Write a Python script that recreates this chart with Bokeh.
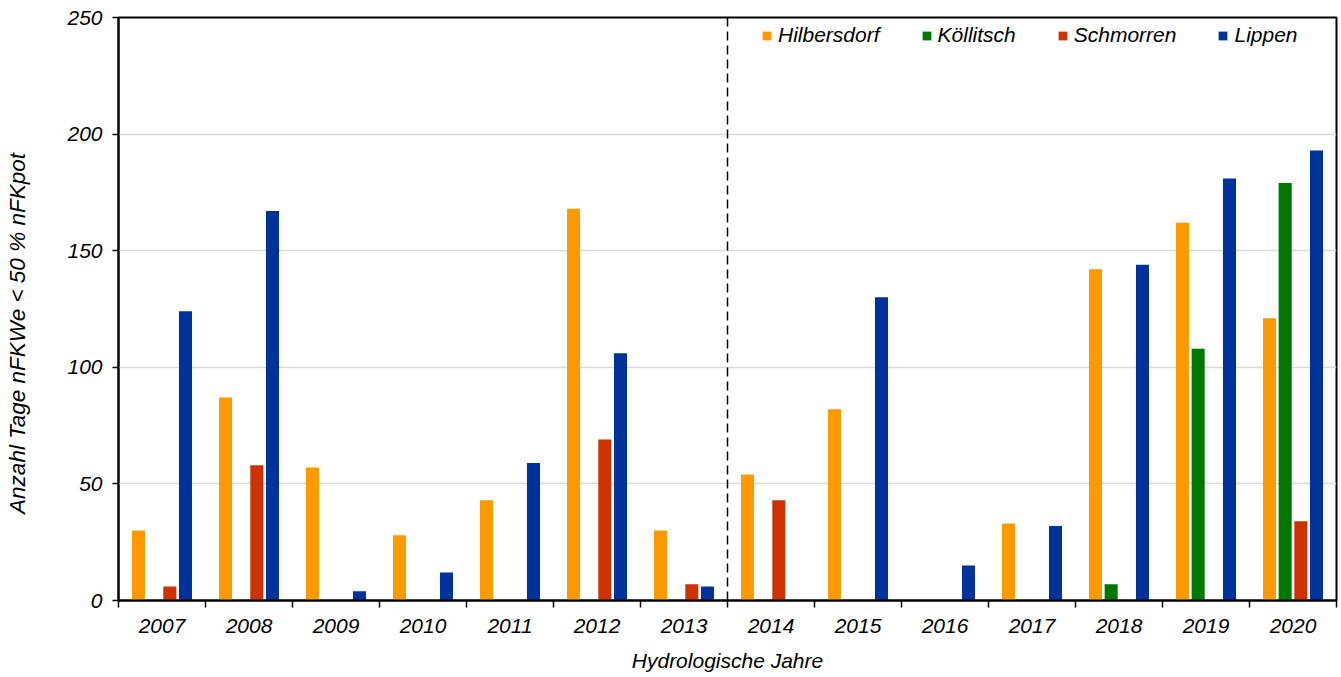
from bokeh.plotting import figure
from bokeh.models import ColumnDataSource, FixedTicker, Span, Legend, LinearAxis
from bokeh.embed import file_html
from bokeh.resources import INLINE

years = ["2007", "2008", "2009", "2010", "2011", "2012", "2013",
         "2014", "2015", "2016", "2017", "2018", "2019", "2020"]
hilbersdorf = [30, 87, 57, 28, 43, 168, 30, 54, 82, 0, 33, 142, 162, 121]
koellitsch = [0, 0, 0, 0, 0, 0, 0, 0, 0, 0, 0, 7, 108, 179]
schmorren = [6, 58, 0, 0, 0, 69, 7, 43, 0, 0, 0, 0, 0, 34]
lippen = [124, 167, 4, 12, 59, 106, 6, 0, 130, 15, 32, 144, 181, 193]
series_names = ["Hilbersdorf", "Köllitsch", "Schmorren", "Lippen"]
series_values = [hilbersdorf, koellitsch, schmorren, lippen]
colors = ["#FF9900", "#007700", "#CC3300", "#003399"]
offsets = [-0.27, -0.09, 0.09, 0.27]
y_ticks = [0, 50, 100, 150, 200, 250]
split_year = "2014"
x_title = "Hydrologische Jahre"
y_title = "Anzahl Tage nFKWe < 50 % nFKpot"

FONT = "Liberation Sans"
FS = "21px"

p = figure(frame_width=1218, frame_height=583,
           x_range=(0, len(years)), y_range=(0, 250),
           output_backend="svg", toolbar_location=None,
           min_border_left=118, min_border_right=5, min_border_top=17,
           min_border_bottom=62, background_fill_color="white",
           border_fill_color="white")

centers = [i + 0.5 for i in range(len(years))]
items = []
for name, vals, col, off in zip(series_names, series_values, colors, offsets):
    src = ColumnDataSource(dict(x=[c + off for c in centers], top=vals))
    r = p.vbar(x="x", top="top", width=0.15, source=src, fill_color=col,
               line_color=None)
    items.append((name, [r]))

legend = Legend(items=items, orientation="horizontal", location=(643, 553),
                border_line_color=None, background_fill_alpha=0,
                padding=4, margin=0, spacing=41, label_standoff=6,
                glyph_width=11, glyph_height=11,
                label_text_font=FONT, label_text_font_style="italic",
                label_text_font_size=FS, label_text_color="black")
p.add_layout(legend)

split = Span(location=years.index(split_year), dimension="height",
             line_color="black", line_width=1.5, line_dash="9 5")
p.add_layout(split)

# x axis
p.xaxis.ticker = FixedTicker(ticks=centers, minor_ticks=list(range(len(years) + 1)))
p.xaxis.major_label_overrides = {c: y for c, y in zip(centers, years)}
p.xaxis.major_tick_line_color = None
p.xaxis.major_tick_out = 0
p.xaxis.major_tick_in = 0
p.xaxis.minor_tick_out = 7
p.xaxis.minor_tick_in = 0
p.xaxis.minor_tick_line_color = "black"
p.xaxis.minor_tick_line_width = 1.5
p.xaxis.major_label_standoff = 11
p.xaxis.axis_label = x_title
p.xaxis.axis_label_standoff = 13

# y axis
p.yaxis.ticker = FixedTicker(ticks=y_ticks)
p.yaxis.major_tick_out = 6
p.yaxis.major_tick_in = 0
p.yaxis.minor_tick_line_color = None
p.yaxis.major_tick_line_width = 1.5
p.yaxis.major_label_standoff = 10

for ax in (p.xaxis, p.yaxis):
    ax.axis_line_color = "black"
    ax.axis_line_width = 2
    ax.major_label_text_font = FONT
    ax.major_label_text_font_style = "italic"
    ax.major_label_text_font_size = FS
    ax.major_label_text_color = "black"
    ax.axis_label_text_font = FONT
    ax.axis_label_text_font_style = "italic"
    ax.axis_label_text_font_size = FS
    ax.axis_label_text_color = "black"

# y axis title: a bare outer axis whose single label sits a little below centre
title_pos = 114.5
title_axis = LinearAxis(ticker=FixedTicker(ticks=[title_pos]),
                        major_label_overrides={title_pos: y_title},
                        major_label_orientation="parallel",
                        major_label_standoff=34,
                        axis_line_color=None, major_tick_line_color=None,
                        minor_tick_line_color=None, major_tick_out=0,
                        major_tick_in=0, minor_tick_out=0, minor_tick_in=0,
                        major_label_text_font=FONT,
                        major_label_text_font_style="italic",
                        major_label_text_font_size="22.5px",
                        major_label_text_color="black")
p.add_layout(title_axis, "left")

p.xgrid.grid_line_color = None
p.ygrid.ticker = FixedTicker(ticks=y_ticks)
p.ygrid.grid_line_color = "#d9d9d9"
p.ygrid.grid_line_width = 1.5

p.outline_line_color = "black"
p.outline_line_width = 2

open("out.html", "w").write(file_html(p, INLINE))
